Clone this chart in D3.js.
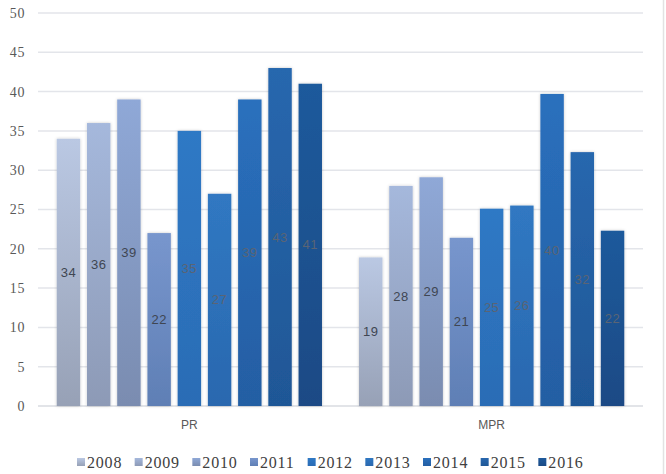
<!DOCTYPE html>
<html>
<head>
<meta charset="utf-8">
<script src="https://cdn.jsdelivr.net/npm/d3@7"></script>
<style>
  body { margin: 0; background: #fff; }
  #chart svg { display: block; }
</style>
</head>
<body>
<div id="chart"></div>
<script>
// data
const groups = ["PR", "MPR"]
const years = ["2008", "2009", "2010", "2011", "2012", "2013", "2014", "2015", "2016"]
const prValues = [34, 36, 39, 22, 35, 27, 39, 43, 41]
const mprValues = [18.9, 28, 29.1, 21.4, 25.1, 25.5, 39.7, 32.3, 22.3]
const yTicks = [0, 5, 10, 15, 20, 25, 30, 35, 40, 45, 50]

// top / bottom colour of each year's gradient
const topColors = ["#bac8e3", "#a5b8dc", "#8fa8d7", "#7896cd", "#2f79c5", "#3078c2", "#2a70bd", "#2867ae", "#1f5a9c"]
const bottomColors = ["#97a1b6", "#8d9ab6", "#7a8cb0", "#5f7fb5", "#2b6cb5", "#2a68af", "#245ea3", "#1f5796", "#1a4a85"]

const serif = "'Liberation Serif', 'Times New Roman', serif"
const sans = "'Liberation Sans', Arial, sans-serif"

const width = 666, height = 474

const svg = d3.select("#chart")
  .append("svg")
  .attr("width", width)
  .attr("height", height)

const defs = svg.append("defs")
years.forEach(function(yr, i) {
  const grad = defs.append("linearGradient")
    .attr("id", "grad" + i)
    .attr("x1", 0).attr("y1", 0).attr("x2", 0).attr("y2", 1)
  grad.append("stop").attr("offset", "0%").attr("stop-color", topColors[i])
  grad.append("stop").attr("offset", "100%").attr("stop-color", bottomColors[i])
})
defs.append("filter")
  .attr("id", "shadow")
  .attr("x", "-30%").attr("y", "-10%").attr("width", "160%").attr("height", "120%")
  .append("feDropShadow")
  .attr("dx", 0).attr("dy", 0).attr("stdDeviation", 1.6)
  .attr("flood-color", "#000").attr("flood-opacity", 0.22)

// right border line of the picture
svg.append("line")
  .attr("x1", 663.5).attr("x2", 663.5)
  .attr("y1", 0).attr("y2", height)
  .attr("stroke", "#e2e2e2").attr("stroke-width", 1.5)

// scales
const x = d3.scaleBand()
  .domain(groups)
  .range([38, 643])
  .paddingInner(0.1225)
  .paddingOuter(0.062)

const xSub = d3.scaleBand()
  .domain(years)
  .range([0, x.bandwidth()])
  .paddingInner(0.225)
  .paddingOuter(0)

const y = d3.scaleLinear()
  .domain([0, 50])
  .range([406, 13])

// gridlines
svg.append("g")
  .selectAll("line")
  .data(yTicks)
  .enter()
  .append("line")
  .attr("x1", 38).attr("x2", 643)
  .attr("y1", function(d) { return y(d) }).attr("y2", function(d) { return y(d) })
  .attr("stroke", function(d) { return d == 0 ? "#d9dbe0" : "#e3e5ea" })
  .attr("stroke-width", 1.5)

// y axis labels
const yAxis = svg.append("g")
  .attr("transform", "translate(25,0)")
  .call(d3.axisLeft(y).tickValues(yTicks).tickSize(0).tickPadding(0))
yAxis.select(".domain").remove()
yAxis.selectAll("text")
  .style("font-family", serif)
  .style("font-size", "14px")
  .style("letter-spacing", "0.6px")
  .attr("fill", "#595959")

// x axis labels
const xAxis = svg.append("g")
  .attr("transform", "translate(0,420)")
  .call(d3.axisBottom(x).tickSize(0).tickPadding(0))
xAxis.select(".domain").remove()
xAxis.selectAll("text")
  .style("font-family", sans)
  .style("font-size", "12px")
  .attr("fill", "#595959")

// bars
const series = groups.map(function(g, gi) {
  const vals = gi == 0 ? prValues : mprValues
  return { group: g, bars: years.map(function(yr, i) { return { year: yr, idx: i, value: vals[i] } }) }
})

const groupG = svg.selectAll(".grp")
  .data(series)
  .enter()
  .append("g")
  .attr("class", "grp")
  .attr("transform", function(d) { return "translate(" + x(d.group) + ",0)" })

groupG.selectAll("rect")
  .data(function(d) { return d.bars })
  .enter()
  .append("rect")
  .attr("x", function(d) { return xSub(d.year) })
  .attr("y", function(d) { return y(d.value) })
  .attr("width", xSub.bandwidth())
  .attr("height", function(d) { return y(0) - y(d.value) })
  .attr("fill", function(d) { return "url(#grad" + d.idx + ")" })
  .attr("filter", "url(#shadow)")

groupG.selectAll(".lbl")
  .data(function(d) { return d.bars })
  .enter()
  .append("text")
  .attr("class", "lbl")
  .attr("x", function(d) { return xSub(d.year) + xSub.bandwidth() / 2 })
  .attr("y", function(d) { return (y(d.value) + y(0)) / 2 })
  .attr("dy", "0.35em")
  .attr("text-anchor", "middle")
  .style("font-family", sans)
  .style("font-size", "13px")
  .style("letter-spacing", "0.5px")
  .attr("fill", function(d) { return d.idx < 4 ? "#3f4652" : "#5a6474" })
  .text(function(d) { return Math.round(d.value) })

// legend
const legendX = d3.scaleBand()
  .domain(years)
  .range([77, 596])

const legend = svg.append("g")
  .attr("transform", "translate(0,462)")

const item = legend.selectAll("g")
  .data(years)
  .enter()
  .append("g")
  .attr("transform", function(d) { return "translate(" + legendX(d) + ",0)" })

item.append("rect")
  .attr("x", 0).attr("y", -4)
  .attr("width", 8).attr("height", 8)
  .attr("fill", function(d, i) { return "url(#grad" + i + ")" })

item.append("text")
  .attr("x", 10)
  .attr("dy", "0.35em")
  .style("font-family", serif)
  .style("font-size", "16px")
  .style("letter-spacing", "0.8px")
  .attr("fill", "#404040")
  .text(function(d) { return d })
</script>
</body>
</html>
